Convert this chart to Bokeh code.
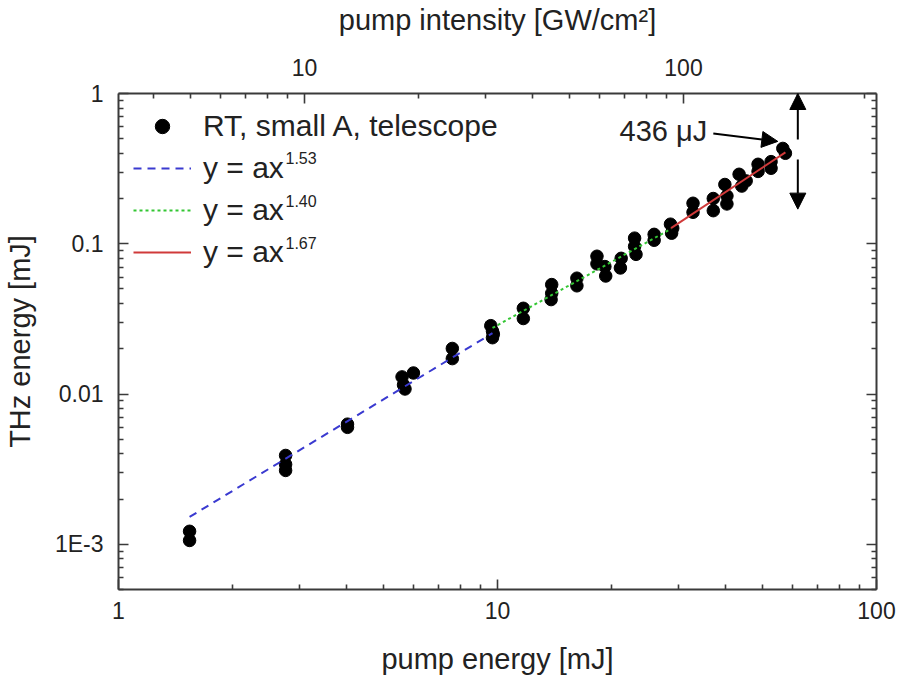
import numpy as np
from bokeh.plotting import figure
from bokeh.models import (LogScale, Range1d, LogAxis, FixedTicker, Legend, LegendItem,
                          Label, Arrow, NormalHead, ColumnDataSource)
from bokeh.embed import file_html
from bokeh.resources import INLINE

# ---------------- data ----------------
pump_energy_mJ = [1.54, 1.54,
                  2.76, 2.76, 2.76,
                  4.02, 4.02,
                  5.6, 5.65, 5.7, 6.0,
                  7.6, 7.6,
                  9.6, 9.7, 9.75, 9.7,
                  11.7, 11.7,
                  13.9, 13.9, 13.85,
                  16.2, 16.2,
                  18.3, 18.3, 19.2, 19.3,
                  21.2, 21.1,
                  23.0, 23.0, 23.2,
                  25.9, 25.9,
                  28.6, 29.0, 28.8,
                  32.8, 32.8,
                  37.1, 37.1,
                  39.8, 40.3, 40.3,
                  43.4, 44.1,
                  45.3,
                  48.7, 48.7,
                  52.7, 52.7,
                  56.6, 57.5]
thz_energy_mJ = [0.00122, 0.00106,
                 0.0039, 0.0034, 0.0031,
                 0.0063, 0.0060,
                 0.0130, 0.0115, 0.0108, 0.0138,
                 0.0201, 0.0172,
                 0.0285, 0.0262, 0.0250, 0.0237,
                 0.0372, 0.0318,
                 0.0535, 0.0468, 0.0425,
                 0.0590, 0.0525,
                 0.0826, 0.0735, 0.0705, 0.0610,
                 0.0800, 0.0690,
                 0.109, 0.096, 0.085,
                 0.1155, 0.1055,
                 0.135, 0.127, 0.1175,
                 0.186, 0.162,
                 0.200, 0.166,
                 0.248, 0.208, 0.184,
                 0.290, 0.242,
                 0.262,
                 0.338, 0.303,
                 0.352, 0.318,
                 0.431, 0.400]

# power-law fits y = a * x^b over their fitted intervals
fit_exponents = [1.53, 1.40, 1.67]
fit_coeffs = [0.000785, 0.001143, 0.000467]
fit_x_start = [1.54, 9.7, 28.7]
fit_x_end = [9.7, 28.7, 57.5]
fit_colors = ["#3a3ad0", "#33c633", "#d03a3a"]
fit_dashes = ["8 6", "3 3", "solid"]
fit_labels = ["1.53", "1.40", "1.67"]

series_label = "RT, small A, telescope"
x_ticks = [1, 10, 100]
y_ticks = [0.001, 0.01, 0.1, 1]
y_tick_labels = ["1E-3", "0.01", "0.1", "1"]
top_ticks = [10, 100]
intensity_per_mJ = 3.23   # GW/cm^2 per mJ (top axis scale)

annot_text = "436 \u03bcJ"
annot_pos = (27.4, 0.565)
arrow_436 = (37.1, 0.542, 54.9, 0.480)
arrow_up = (62.0, 0.495, 62.0, 1.0)
arrow_down = (62.0, 0.364, 62.0, 0.170)

# ---------------- figure ----------------
FONT = "Liberation Sans"
TXT = "#222222"
AX = "#3a3a3a"

p = figure(width=897, height=680, x_axis_type="log", y_axis_type="log",
           x_range=Range1d(1, 100), y_range=Range1d(5e-4, 1),
           output_backend="svg", toolbar_location=None,
           min_border_left=115, min_border_right=21, min_border_top=92, min_border_bottom=91)
p.outline_line_color = None
p.xgrid.visible = False
p.ygrid.visible = False
p.background_fill_color = "white"
p.border_fill_color = "white"

p.extra_x_ranges = {"intensity": Range1d(1 * intensity_per_mJ, 100 * intensity_per_mJ)}
p.extra_x_scales = {"intensity": LogScale()}

def minors(lo, hi):
    out = []
    for d in range(-5, 4):
        for m in range(2, 10):
            v = m * 10.0 ** d
            if lo <= v <= hi:
                out.append(v)
    return out

def style(ax):
    ax.axis_line_width = 2
    ax.axis_line_color = AX
    ax.major_tick_line_color = AX
    ax.minor_tick_line_color = AX
    ax.major_tick_line_width = 1.6
    ax.minor_tick_line_width = 1.6
    ax.major_tick_in = 10
    ax.major_tick_out = 0
    ax.minor_tick_in = 5
    ax.minor_tick_out = 0
    ax.major_label_text_font = FONT
    ax.major_label_text_font_size = "23px"
    ax.major_label_text_color = TXT
    ax.axis_label_text_font = FONT
    ax.axis_label_text_font_size = "29px"
    ax.axis_label_text_font_style = "normal"
    ax.axis_label_text_color = TXT

# bottom axis
xb = p.xaxis[0]
xb.ticker = FixedTicker(ticks=x_ticks, minor_ticks=minors(1, 100))
xb.major_label_overrides = {t: str(t) for t in x_ticks}
style(xb)
xb.axis_label = "pump energy [mJ]"
xb.major_label_standoff = 12
xb.axis_label_standoff = 21

# left axis
yl = p.yaxis[0]
yl.ticker = FixedTicker(ticks=y_ticks, minor_ticks=minors(5e-4, 1))
yl.major_label_overrides = dict(zip(y_ticks, y_tick_labels))
style(yl)
yl.axis_label = "THz energy [mJ]"
yl.major_label_standoff = 15
yl.axis_label_standoff = 16

# right axis (ticks only)
yr = LogAxis(ticker=FixedTicker(ticks=y_ticks, minor_ticks=minors(5e-4, 1)))
style(yr)
yr.major_label_overrides = {t: "" for t in y_ticks}
yr.major_label_standoff = 0
p.add_layout(yr, "right")

# top axis: pump intensity
xt = LogAxis(x_range_name="intensity",
             ticker=FixedTicker(ticks=top_ticks,
                                minor_ticks=minors(intensity_per_mJ, 100 * intensity_per_mJ)))
style(xt)
xt.major_label_overrides = {t: str(t) for t in top_ticks}
xt.axis_label = "pump intensity [GW/cm\u00b2]"
xt.major_label_standoff = 18
xt.axis_label_standoff = 20
p.add_layout(xt, "above")

# data points
src = ColumnDataSource(dict(x=pump_energy_mJ, y=thz_energy_mJ))
pts = p.scatter("x", "y", source=src, size=12.5, marker="circle",
                fill_color="black", line_color="black")

# fit lines
fit_renderers = []
for b, a, x0, x1, c, d in zip(fit_exponents, fit_coeffs, fit_x_start, fit_x_end, fit_colors, fit_dashes):
    xs = np.array([x0, x1])
    ys = a * xs ** b
    r = p.line(xs, ys, line_color=c, line_width=2, line_dash=d)
    fit_renderers.append(r)

# legend
items = [LegendItem(label=series_label, renderers=[pts])]
for r in fit_renderers:
    items.append(LegendItem(label="y = ax", renderers=[r]))
legend = Legend(items=items, location=(15, 319), padding=0, margin=0, spacing=6,
                glyph_width=58, glyph_height=36, label_height=36, label_standoff=12,
                border_line_color=None, background_fill_alpha=0,
                label_text_font=FONT, label_text_font_size="30px", label_text_color=TXT)
p.add_layout(legend)

# superscript exponents next to "y = ax"
sup_y = [432, 389, 347]
for lab, yy in zip(fit_labels, sup_y):
    p.add_layout(Label(x=167, y=yy, x_units="screen", y_units="screen", text=lab,
                       text_font=FONT, text_font_size="16px", text_color=TXT,
                       text_baseline="middle", text_align="left"))

# annotation
p.add_layout(Label(x=annot_pos[0], y=annot_pos[1], text=annot_text, text_font=FONT,
                   text_font_size="29px", text_color=TXT, text_align="center",
                   text_baseline="middle"))
for (xs0, ys0, xe0, ye0) in [arrow_436, arrow_up, arrow_down]:
    p.add_layout(Arrow(end=NormalHead(size=16, fill_color="black", line_color="black"),
                       x_start=xs0, y_start=ys0, x_end=xe0, y_end=ye0,
                       line_color="black", line_width=2))

open("out.html", "w").write(file_html(p, INLINE))
